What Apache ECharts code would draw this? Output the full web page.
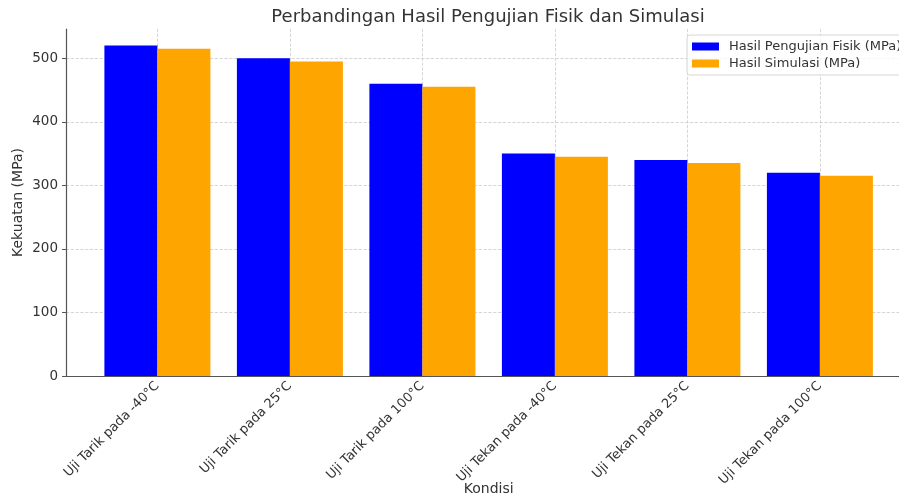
<!DOCTYPE html>
<html>
<head>
<meta charset="utf-8">
<script src="https://cdn.jsdelivr.net/npm/echarts@6/dist/echarts.min.js"></script>
<style>html,body{margin:0;padding:0;background:#fff}#c{width:899px;height:499px}</style>
</head>
<body>
<div id="c"></div>
<script>
const categories = ["Uji Tarik pada -40°C","Uji Tarik pada 25°C","Uji Tarik pada 100°C","Uji Tekan pada -40°C","Uji Tekan pada 25°C","Uji Tekan pada 100°C"];
const fisik = [520, 500, 460, 350, 340, 320];
const simulasi = [515, 495, 455, 345, 335, 315];
const seriesNames = ["Hasil Pengujian Fisik (MPa)", "Hasil Simulasi (MPa)"];
const titleText = "Perbandingan Hasil Pengujian Fisik dan Simulasi";
const yName = "Kekuatan (MPa)";
const xName = "Kondisi";

const FONT = "DejaVu Sans";
const chart = echarts.init(document.getElementById('c'), null, {renderer: 'canvas'});
chart.setOption({
  animation: false,
  textStyle: {fontFamily: FONT},
  title: {text: titleText, left: 483, textAlign: 'center', top: 3, textStyle: {fontFamily: FONT, fontSize: 18, fontWeight: 'normal', color: '#333'}},
  legend: {
    left: 687, top: 35, orient: 'vertical', itemWidth: 27, itemHeight: 8, itemGap: 4,
    icon: 'rect', padding: [5, 8, 5, 5], borderColor: '#d6d6d6', borderWidth: 1, borderRadius: 3,
    backgroundColor: 'rgba(255,255,255,0.8)',
    textStyle: {fontFamily: FONT, fontSize: 13, color: '#333', padding: [0, 0, 0, 5]},
    data: seriesNames
  },
  grid: [
    {left: 66, top: 29, width: 845, height: 347, outerBoundsMode: 'none', containLabel: false},
    {left: 157.4, top: 29, width: 662.5, height: 347, outerBoundsMode: 'none', containLabel: false}
  ],
  xAxis: [
    {type: 'value', gridIndex: 0, min: 0, max: 1, axisLine: {show: true, lineStyle: {color: '#555', width: 1.2}}, axisTick: {show: false}, axisLabel: {show: false}, splitLine: {show: false}},
    {type: 'category', gridIndex: 1, data: categories, boundaryGap: false,
      axisLine: {show: false}, axisTick: {show: false},
      axisLabel: {rotate: 45, interval: 0, margin: 8, fontFamily: FONT, fontSize: 13, color: '#333'},
      splitLine: {show: true, interval: 0, lineStyle: {color: '#ccc', type: 'dashed', width: 0.8}},
      name: xName, nameLocation: 'middle', nameGap: 106, nameMoveOverlap: false,
      nameTextStyle: {fontFamily: FONT, fontSize: 14, color: '#333'}}
  ],
  yAxis: [
    {type: 'value', gridIndex: 0, min: 0, max: 546, interval: 100,
      axisLine: {show: true, lineStyle: {color: '#555', width: 1.2}},
      axisTick: {show: true, length: 4, lineStyle: {color: '#555'}},
      axisLabel: {showMaxLabel: false, fontFamily: FONT, fontSize: 13.5, color: '#333', margin: 8},
      splitLine: {show: true, showMaxLine: false, lineStyle: {color: '#ccc', type: 'dashed', width: 0.8}},
      name: yName, nameLocation: 'middle', nameGap: 41, nameMoveOverlap: false,
      nameTextStyle: {fontFamily: FONT, fontSize: 14, color: '#333'}},
    {type: 'value', gridIndex: 1, min: 0, max: 546, show: false, splitLine: {show: false}}
  ],
  series: [
    {name: seriesNames[0], type: 'bar', xAxisIndex: 1, yAxisIndex: 1, data: fisik, barWidth: 53, barGap: '0%', clip: false, itemStyle: {color: '#0000ff'}},
    {name: seriesNames[1], type: 'bar', xAxisIndex: 1, yAxisIndex: 1, data: simulasi, barWidth: 53, barGap: '0%', clip: false, itemStyle: {color: '#ffa500'}}
  ]
});
</script>
</body>
</html>
